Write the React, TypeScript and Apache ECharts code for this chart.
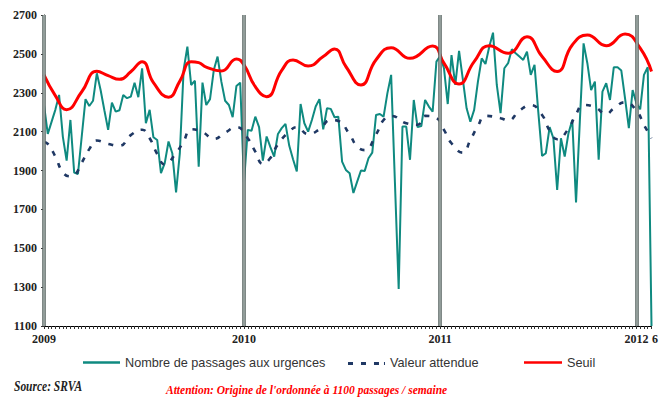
import React, { useEffect, useRef } from "react";
import * as echarts from "echarts";

// ---- data ----
const weekCount = 162; // weekly points, 2009 week 1 -> 2012
const yearStarts = [0, 53, 105, 157];
const tickLabels: [number, string][] = [
  [0, "2009"],
  [53, "2010"],
  [105, "2011"],
  [157, "2012"],
  [161, "6"],
];
const yMin = 1100;
const yMax = 2700;
const yStep = 200;

const passagesName = "Nombre de passages aux urgences";
const attendueName = "Valeur attendue";
const seuilName = "Seuil";

const passages = [
  2237, 2088, 2150, 2212, 2289, 2073, 1951, 2160, 1889, 1882,
  2075, 2267, 2232, 2259, 2400, 2314, 2210, 2109, 2249, 2203,
  2210, 2289, 2272, 2280, 2352, 2277, 2426, 2143, 2212, 2071,
  2057, 1886, 1938, 2049, 1989, 1787, 1989, 2417, 2537, 2340,
  2362, 1920, 2352, 2237, 2267, 2417, 2486, 2357, 2259, 2237,
  2174, 2335, 2352, 1838, 2109, 2105, 2177, 2123, 1951, 2075,
  2020, 1972, 2088, 2118, 2140, 2027, 1958, 1895, 2242, 2143,
  2100, 2160, 2229, 2267, 2112, 2220, 2217, 2174, 2177, 1946,
  1903, 1886, 1784, 1843, 1900, 1898, 1963, 1992, 2186, 2191,
  2177, 2297, 2392, 1840, 1290, 2126, 2126, 1955, 2263, 2123,
  2129, 2263, 2229, 2203, 2460, 2489, 2426, 2242, 2494, 2340,
  2516, 2369, 2220, 2151, 2212, 2357, 2477, 2448, 2537, 2609,
  2340, 2195, 2426, 2452, 2524, 2503, 2486, 2469, 2511, 2392,
  2443, 2200, 1975, 1989, 2123, 2066, 1800, 2066, 1972, 2092,
  2160, 1735, 2150, 2554, 2452, 2314, 2357, 1955, 2306, 2349,
  2263, 2431, 2431, 2414, 2270, 2118, 2314, 2246, 2215, 2392,
  2431, 1100,
];

// [week index, value]
const attendue: [number, number][] = [
  [0, 2045], [1, 2037], [3, 1972], [5, 1891], [7, 1870], [8, 1875],
  [10, 1940], [12, 2010], [14, 2054], [17, 2037], [20, 2027], [23, 2082],
  [26, 2110], [28, 2066], [30, 1985], [32, 1932], [35, 1990], [37, 2050],
  [39, 2112], [42, 2098], [45, 2062], [48, 2095], [51, 2123], [54, 2066],
  [56, 1997], [58, 1934], [60, 1965], [62, 2035], [65, 2100], [67, 2123],
  [70, 2087], [73, 2112], [76, 2160], [78, 2155], [81, 2085], [83, 2023],
  [85, 2005], [88, 2085], [90, 2160], [92, 2181], [96, 2143], [99, 2135],
  [101, 2181], [104, 2170], [106, 2109], [108, 2040], [111, 1992], [113, 2057],
  [115, 2129], [117, 2181], [121, 2169], [123, 2157], [126, 2208], [129, 2237],
  [132, 2186], [134, 2105], [136, 2061], [139, 2115], [141, 2190], [143, 2237],
  [146, 2226], [149, 2191], [151, 2220], [154, 2251], [157, 2208], [159, 2135],
  [161, 2066],
];

const seuil: [number, number][] = [
  [0, 2392], [3, 2285], [6, 2213], [10, 2305], [14, 2410], [17, 2388],
  [20, 2369], [23, 2408], [26, 2460], [29, 2352], [33, 2277], [36, 2360],
  [39, 2460], [41, 2455], [43, 2432], [47, 2412], [51, 2474], [53, 2443],
  [56, 2331], [59, 2280], [63, 2415], [66, 2469], [70, 2438], [74, 2486],
  [77, 2525], [80, 2435], [84, 2340], [88, 2470], [92, 2532], [97, 2477],
  [103, 2540], [106, 2452], [110, 2345], [114, 2460], [118, 2542], [123, 2503],
  [128, 2588], [132, 2486], [136, 2409], [140, 2546], [144, 2597], [149, 2542],
  [154, 2602], [158, 2529], [161, 2409],
];

const sourceText = "Source: SRVA";
const noteText = "Attention: Origine de l'ordonnée à 1100 passages / semaine";

const TEAL = "#0f8a80";
const NAVY = "#1f3864";
const RED = "#ff0000";

// legend icons (drawn in a 37 x 14 box)
const solidIcon = "path://M0,6 L37,6 L37,8.5 L0,8.5 Z";
const dashIcon =
  "path://M0,6h5v3h-5z M13,6h5v3h-5z M26,6h5v3h-5z M36,6h1v3h-1z M0,0h0.01v0.01h-0.01z M0,14h0.01v0.01h-0.01z";

export default function App() {
  const ref = useRef<HTMLDivElement>(null);

  useEffect(() => {
    const chart = echarts.init(ref.current!, null, { renderer: "svg" });
    const categories = Array.from({ length: weekCount }, (_, i) => String(i));
    const labelMap = new Map<number, string>(tickLabels);
    const serif = '"Liberation Serif", "Times New Roman", serif';
    const sans = '"Liberation Sans", Arial, sans-serif';
    const legendText = { fontFamily: sans, fontSize: 12.7, color: "#333" };

    const barLines = (color: string, width: number, z: number) => ({
      type: "line",
      data: [],
      silent: true,
      z,
      markLine: {
        silent: true,
        symbol: ["none", "none"],
        label: { show: false },
        z,
        lineStyle: { color, width, type: "solid" },
        emphasis: { disabled: true },
        data: yearStarts.map((i) => ({ xAxis: i })),
      },
    });

    const legendBase = {
      top: 356,
      padding: 0,
      itemWidth: 37,
      itemHeight: 14,
      itemGap: 0,
      textStyle: legendText,
      selectedMode: false,
    };

    chart.setOption({
      animation: false,
      backgroundColor: "#ffffff",
      grid: { left: 44, right: 6, top: 15, bottom: 76 },
      xAxis: {
        type: "category",
        data: categories,
        boundaryGap: false,
        axisLine: { show: true, lineStyle: { color: "#000", width: 1 } },
        axisTick: { show: true, interval: 0, length: 3, lineStyle: { color: "#333" } },
        axisLabel: {
          interval: (i: number) => labelMap.has(i),
          formatter: (_v: string, i: number) => {
            const t = labelMap.get(i) ?? "";
            return t === "6" ? "{r|6}" : t;
          },
          rich: {
            r: {
              fontFamily: serif,
              fontWeight: "bold",
              fontSize: 12,
              color: "#222",
              padding: [0, 0, 0, 7],
            },
          },
          fontFamily: serif,
          fontWeight: "bold",
          fontSize: 12,
          color: "#222",
          margin: 7,
        },
        splitLine: { show: false },
      },
      yAxis: {
        type: "value",
        min: yMin,
        max: yMax,
        interval: yStep,
        axisLine: { show: true, lineStyle: { color: "#000", width: 1 } },
        axisTick: { show: true, length: 3, lineStyle: { color: "#333" } },
        axisLabel: {
          formatter: (v: number) => String(v),
          fontFamily: serif,
          fontWeight: "bold",
          fontSize: 12,
          color: "#222",
          margin: 7,
        },
        splitLine: { show: false },
      },
      legend: [
        {
          ...legendBase,
          data: [{ name: passagesName, icon: solidIcon, itemStyle: { color: TEAL } }],
          left: 83,
        },
        {
          ...legendBase,
          data: [{ name: attendueName, icon: dashIcon, itemStyle: { color: NAVY } }],
          left: 348,
        },
        {
          ...legendBase,
          itemWidth: 38,
          data: [{ name: seuilName, icon: solidIcon, itemStyle: { color: RED } }],
          left: 524,
        },
      ],
      graphic: [
        {
          type: "text",
          left: 14,
          top: 380,
          scaleX: 0.82,
          style: {
            text: sourceText,
            font: `italic bold 14px ${serif}`,
            fill: "#222",
          },
        },
        {
          type: "text",
          left: 166,
          top: 384,
          style: {
            text: noteText,
            font: `italic bold 11.5px ${serif}`,
            fill: RED,
          },
        },
      ],
      series: [
        {
          name: passagesName,
          type: "line",
          data: passages,
          symbol: "none",
          showSymbol: false,
          lineStyle: { color: TEAL, width: 2 },
          itemStyle: { color: TEAL },
          z: 2,
        },
        {
          name: attendueName,
          type: "line",
          data: attendue,
          smooth: true,
          symbol: "none",
          showSymbol: false,
          lineStyle: { color: NAVY, width: 2.6, type: [5, 8] },
          itemStyle: { color: NAVY },
          z: 3,
        },
        {
          name: seuilName,
          type: "line",
          data: seuil,
          smooth: true,
          symbol: "none",
          showSymbol: false,
          lineStyle: { color: RED, width: 3 },
          itemStyle: { color: RED },
          z: 4,
        },
        barLines("#55605e", 3.5, 6),
        barLines("#a6b0ae", 1.5, 7),
      ],
    });

    return () => chart.dispose();
  }, []);

  return (
    <div
      ref={ref}
      style={{ position: "fixed", left: 0, top: 0, width: 661, height: 402, background: "#fff" }}
    />
  );
}
